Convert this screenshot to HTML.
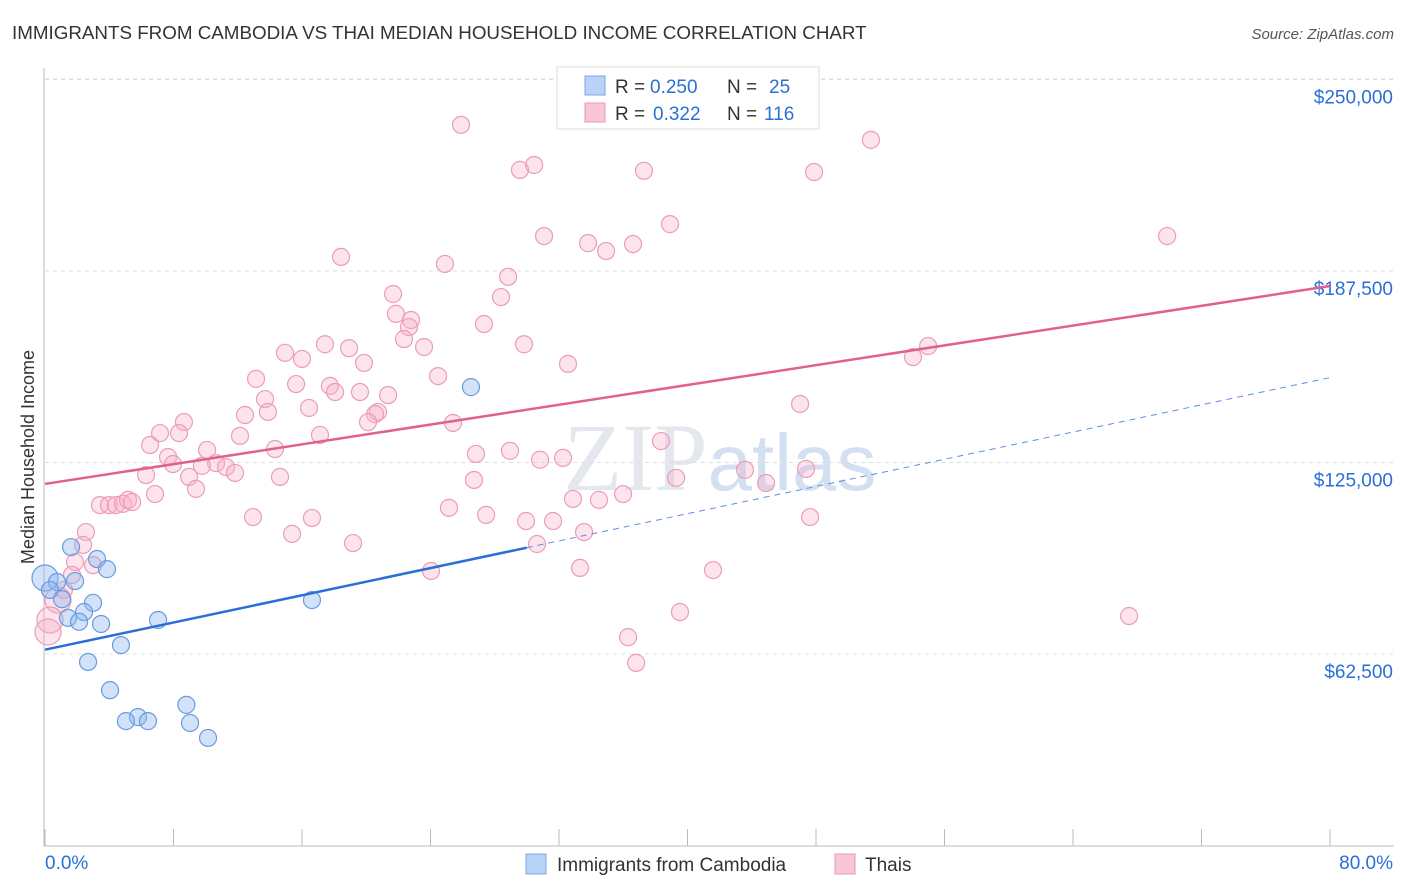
<!DOCTYPE html>
<html><head><meta charset="utf-8"><style>
body{margin:0;background:#fff;font-family:"Liberation Sans",sans-serif;}
#c{position:relative;width:1406px;height:892px;overflow:hidden}
</style></head><body>
<div id="c">
<svg id="s" width="1406" height="892" xmlns="http://www.w3.org/2000/svg">
<text x="12" y="39" font-size="18.8" fill="#333">IMMIGRANTS FROM CAMBODIA VS THAI MEDIAN HOUSEHOLD INCOME CORRELATION CHART</text>
<text x="1394" y="39" font-size="15" fill="#555" font-style="italic" text-anchor="end">Source: ZipAtlas.com</text>
<text x="34" y="457" font-size="18" fill="#333" text-anchor="middle" transform="rotate(-90 34 457)">Median Household Income</text>
<text x="720" y="490" font-size="96" fill="#e4e8ee" text-anchor="middle" font-family="Liberation Serif,serif">ZIP<tspan fill="#d2e0f2" font-family="Liberation Sans,sans-serif" font-size="80">atlas</tspan></text>
<g id="grid"></g><g id="axes"></g><g id="marks"></g>
<g>
<rect x="557" y="67" width="262" height="62" fill="#fff" stroke="#ddd"/>
<rect x="585" y="76" width="20" height="19" fill="#b8d3f5" stroke="#7aa6e0"/>
<rect x="585" y="103" width="20" height="19" fill="#f9c6d5" stroke="#e89ab4"/>
<text y="93" font-size="19" fill="#333"><tspan x="615">R =</tspan><tspan x="650" fill="#2a6fd6">0.250</tspan><tspan x="727">N =</tspan><tspan x="769" fill="#2a6fd6">25</tspan></text>
<text y="120" font-size="19" fill="#333"><tspan x="615">R =</tspan><tspan x="653" fill="#2a6fd6">0.322</tspan><tspan x="727">N =</tspan><tspan x="764" fill="#2a6fd6">116</tspan></text>
</g>
<g>
<rect x="526" y="854" width="20" height="20" fill="#b8d3f5" stroke="#7aa6e0"/>
<text x="557" y="871" font-size="19" fill="#333">Immigrants from Cambodia</text>
<rect x="835" y="854" width="20" height="20" fill="#f9c6d5" stroke="#e89ab4"/>
<text x="865" y="871" font-size="19" fill="#333">Thais</text>
</g>
</svg></div>
<script>
const yTicks=[62500,125000,187500,250000];
const yTickLabels=["$62,500","$125,000","$187,500","$250,000"];
const xTickLabels=["0.0%","80.0%"];
const blueX=[0,0.75,0.31,1.62,1.87,3.24,3.86,1.06,2.99,2.43,1.43,2.12,3.49,7.04,4.73,2.68,4.05,5.79,5.04,6.41,8.8,9.03,10.15,16.62,26.52];
const blueY=[87.3,86.0,83.4,97.4,86.3,93.5,90.2,80.4,79.2,76.2,74.3,73.0,72.3,73.6,65.4,59.9,50.7,41.9,40.6,40.6,45.9,40.0,35.1,80.1,149.6];
const pinkX=[25.90,51.42,30.45,29.57,37.29,47.88,69.86,38.91,31.07,33.81,36.61,34.93,18.43,24.90,28.83,21.67,28.39,21.85,22.79,22.66,27.33,22.35,23.60,17.43,18.93,14.94,16.00,29.82,32.56,19.86,54.98,54.04,24.47,13.14,15.63,17.74,18.06,19.61,21.36,13.70,16.44,20.73,20.55,12.45,13.88,20.11,8.65,25.40,7.16,8.34,17.12,12.14,6.54,38.35,14.32,10.09,28.95,26.83,7.66,32.25,7.97,10.65,9.77,11.27,11.83,43.58,47.38,6.29,8.97,14.63,39.29,44.89,26.71,9.40,6.85,3.42,3.98,4.42,4.86,5.17,5.42,32.87,34.49,35.99,25.15,27.46,12.95,16.62,29.95,47.63,31.63,15.38,33.56,2.55,19.18,2.37,30.63,1.87,2.99,1.68,33.31,24.03,41.59,1.18,0.81,39.53,67.49,0.31,0.19,36.30,36.80,47.01,30.82];
const pinkY=[235.2,230.3,222.1,220.5,220.2,219.8,198.9,202.8,198.9,196.6,196.3,194.0,192.1,189.8,185.6,180.0,179.0,173.5,171.5,169.2,170.2,165.3,162.7,163.6,162.3,160.8,158.8,163.6,157.2,157.5,163.0,159.4,153.2,152.3,150.6,150.0,148.0,148.0,147.0,145.7,142.8,141.5,140.8,140.5,141.5,138.2,138.2,137.9,134.6,134.6,134.0,133.7,130.7,132.0,129.4,129.1,128.8,127.8,126.8,126.5,124.5,124.8,123.9,123.5,121.6,122.6,122.9,120.9,120.3,120.3,120.0,118.3,119.3,116.4,114.7,111.1,111.1,111.1,111.5,112.8,112.1,113.1,112.8,114.7,110.2,107.9,107.2,106.9,105.9,107.2,105.9,101.7,102.3,102.3,98.7,98.1,98.4,92.5,91.5,88.3,90.6,89.6,89.9,83.4,80.1,76.2,74.9,73.6,69.7,68.0,59.6,144.1,125.9];
const pinkTrend=[118.0,182.6];
const blueTrend=[63.9,152.7];
const blueSolidEnd=30;
const NS="http://www.w3.org/2000/svg";
const X=v=>45+v/80*1285;
const Y=v=>845.5-v/62500*191.5;
const Yk=v=>Y(v*1000);
function mk(t,a,p){const e=document.createElementNS(NS,t);for(const k in a)e.setAttribute(k,a[k]);p.appendChild(e);return e;}
const grid=document.getElementById('grid'),axes=document.getElementById('axes'),marks=document.getElementById('marks');
yTicks.forEach((t,i)=>{
 const l=mk('line',{x1:45,x2:1394,y1:Y(t),y2:Y(t),stroke:'#ddd','stroke-dasharray':'4,4'},grid);
 
 
 const tx=mk('text',{x:1393,y:Y(t)+24,'font-size':19,fill:'#2a6fd6','text-anchor':'end'},axes);
 tx.textContent=yTickLabels[i];
 
 
});
const topGrid=mk('line',{x1:45,x2:1394,y1:79,y2:79,stroke:'#ddd','stroke-dasharray':'4,4'},grid);


mk('line',{x1:44,x2:44,y1:68,y2:846,stroke:'#bbb'},axes);
mk('line',{x1:44,x2:1394,y1:846,y2:846,stroke:'#bbb'},axes);
for(let i=0;i<=10;i++){mk('line',{x1:X(i*8),x2:X(i*8),y1:829,y2:846,stroke:'#bbb'},axes);}
[[0,'start',45],[1,'end',1393]].forEach(([i,a,x])=>{const t=mk('text',{x:x,y:869,'font-size':19,fill:'#2a6fd6','text-anchor':a},axes);t.textContent=xTickLabels[i];});
pinkX.forEach((x,i)=>{
 const c=mk('circle',{cx:X(x),cy:Yk(pinkY[i]),r:(x<1?13:8.5),fill:'rgba(248,175,198,0.35)',stroke:'#eb9db8','stroke-width':1.2},marks);
 
 
});
blueX.forEach((x,i)=>{
 const c=mk('circle',{cx:X(x),cy:Yk(blueY[i]),r:(x<0.2?13:8.5),fill:'rgba(140,182,240,0.4)',stroke:'#6a9be0','stroke-width':1.2},marks);
 
 
});
const bAt=v=>blueTrend[0]+(blueTrend[1]-blueTrend[0])*v/80;
const pl=mk('line',{x1:X(0),y1:Yk(pinkTrend[0]),x2:X(80),y2:Yk(pinkTrend[1]),stroke:'#e0608f','stroke-width':2.5},marks);


const bl=mk('line',{x1:X(0),y1:Yk(bAt(0)),x2:X(blueSolidEnd),y2:Yk(bAt(blueSolidEnd)),stroke:'#2a6fd6','stroke-width':2.5},marks);


const bd=mk('line',{x1:X(blueSolidEnd),y1:Yk(bAt(blueSolidEnd)),x2:X(80),y2:Yk(bAt(80)),stroke:'#5a8fe0','stroke-width':1,'stroke-dasharray':'6,5'},marks);


</script>
</body></html>
